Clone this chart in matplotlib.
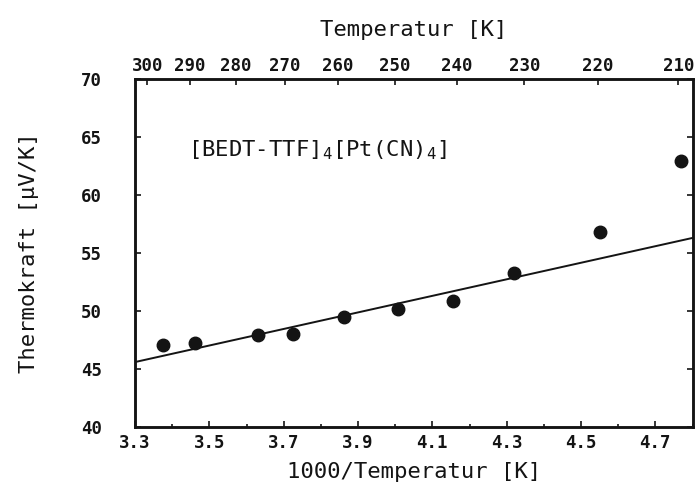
import matplotlib.pyplot as plt
from matplotlib.ticker import MultipleLocator

plt.rcParams['font.family'] = 'DejaVu Sans Mono'
plt.rcParams['mathtext.fontset'] = 'custom'
plt.rcParams['mathtext.rm'] = 'DejaVu Sans Mono'
plt.rcParams['mathtext.default'] = 'rm'

inv_temp = [3.376, 3.462, 3.632, 3.724, 3.863, 4.008, 4.156, 4.320, 4.551, 4.769]
thermo = [47.1, 47.2, 47.9, 48.0, 49.5, 50.2, 50.9, 53.25, 56.8, 62.9]

# Ausgleichsgerade
fit_x = [3.3, 4.8]
fit_y = [45.6, 56.3]

x_ticks = [3.3, 3.5, 3.7, 3.9, 4.1, 4.3, 4.5, 4.7]
y_ticks = [40, 45, 50, 55, 60, 65, 70]
temps = [300, 290, 280, 270, 260, 250, 240, 230, 220, 210]

ink = '#141414'

fig = plt.figure(figsize=(6.96, 4.91), dpi=100)
ax = fig.add_axes([0.194, 0.1303, 0.801, 0.7088])

ax.plot(fit_x, fit_y, color=ink, lw=1.4)
ax.plot(inv_temp, thermo, 'o', color=ink, ms=9)

ax.set_xlim(3.3, 4.8)
ax.set_ylim(40, 70)
ax.set_xticks(x_ticks)
ax.set_xticklabels([f'{v:.1f}' for v in x_ticks], fontweight='bold', fontsize=12.5)
ax.xaxis.set_minor_locator(MultipleLocator(0.1))
ax.set_yticks(y_ticks)
ax.set_yticklabels([str(v) for v in y_ticks], fontweight='bold', fontsize=12.5)
ax.tick_params(axis='x', which='both', direction='in', length=4, width=1.2, pad=5, colors=ink)
ax.tick_params(axis='x', which='minor', length=2)
ax.tick_params(axis='y', direction='in', length=4, width=1.2, right=True, pad=24, colors=ink)
for s in ax.spines.values():
    s.set_linewidth(1.8)
    s.set_color(ink)

ax.set_xlabel('1000/Temperatur [K]', fontsize=16, labelpad=7, color=ink)
ax.set_ylabel('Thermokraft [µV/K]', fontsize=16, color=ink)
ax.yaxis.set_label_coords(-0.173, 0.5)

# obere Achse: Temperatur
ax2 = ax.twiny()
ax2.set_xlim(ax.get_xlim())
ax2.set_xticks([1000 / t for t in temps])
ax2.set_xticklabels([str(t) for t in temps], fontweight='bold', fontsize=12.5)
ax2.tick_params(axis='x', direction='in', length=4, width=1.2, pad=3, colors=ink)
ax2.set_xlabel('Temperatur [K]', fontsize=16, labelpad=15, color=ink)
for s in ax2.spines.values():
    s.set_linewidth(1.8)
    s.set_color(ink)

ax.text(3.443, 63.9, r'[BEDT-TTF]$_4$[Pt(CN)$_4$]', fontsize=16, va='center', ha='left', color=ink)

fig.savefig('out.png', dpi=100)
